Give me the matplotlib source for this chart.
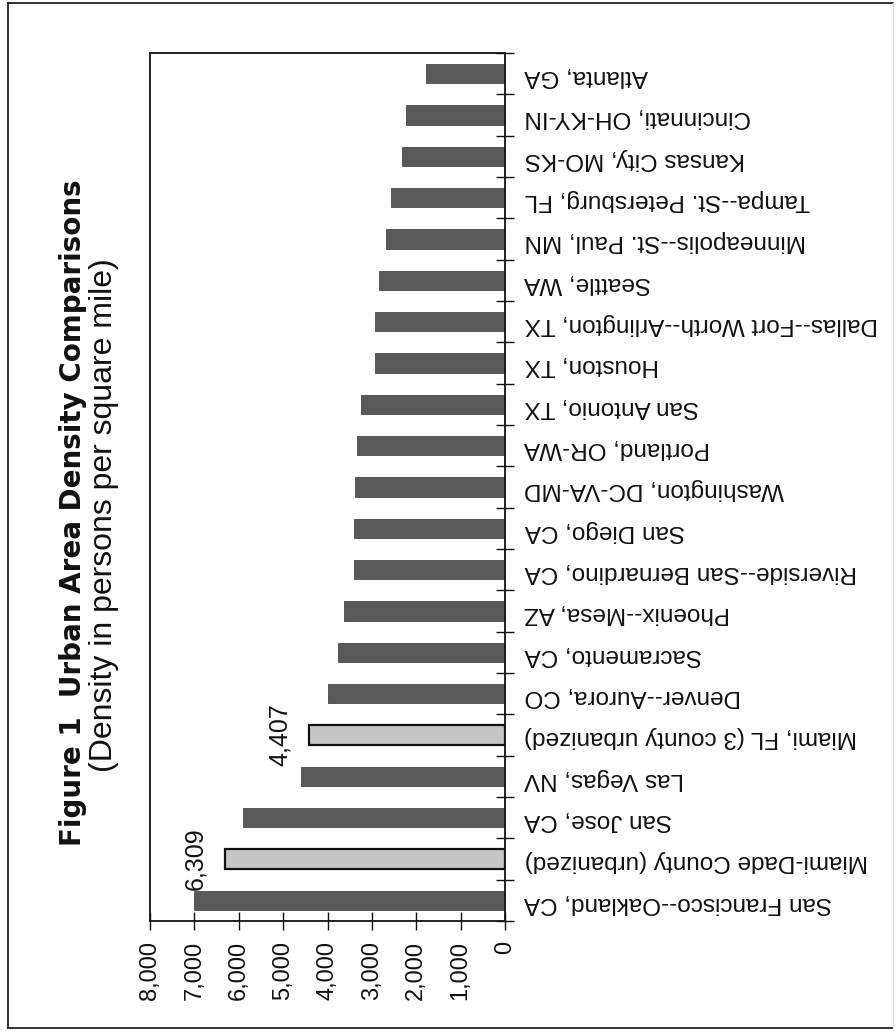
import matplotlib
matplotlib.use("Agg")
import matplotlib.pyplot as plt
from matplotlib import font_manager
from matplotlib.ticker import FuncFormatter, FixedLocator
import numpy as np

# Urban areas, ordered from the densest (drawn at the bottom) upward
areas = [
    "San Francisco--Oakland, CA",
    "Miami-Dade County (urbanized)",
    "San Jose, CA",
    "Las Vegas, NV",
    "Miami, FL (3 county urbanized)",
    "Denver--Aurora, CO",
    "Sacramento, CA",
    "Phoenix--Mesa, AZ",
    "Riverside--San Bernardino, CA",
    "San Diego, CA",
    "Washington, DC-VA-MD",
    "Portland, OR-WA",
    "San Antonio, TX",
    "Houston, TX",
    "Dallas--Fort Worth--Arlington, TX",
    "Seattle, WA",
    "Minneapolis--St. Paul, MN",
    "Tampa--St. Petersburg, FL",
    "Kansas City, MO-KS",
    "Cincinnati, OH-KY-IN",
    "Atlanta, GA",
]
density = [7004, 6309, 5914, 4597, 4407, 3979, 3768, 3638, 3408, 3403,
           3390, 3325, 3235, 2940, 2935, 2840, 2675, 2560, 2325, 2225, 1780]
# Bars that carry a value label and a lighter fill
highlighted = ["Miami-Dade County (urbanized)", "Miami, FL (3 county urbanized)"]
value_ticks = [0, 1000, 2000, 3000, 4000, 5000, 6000, 7000, 8000]

title = "Figure 1  Urban Area Density Comparisons"
subtitle = "(Density in persons per square mile)"

available = {f.name for f in font_manager.fontManager.ttflist}
label_font = "Liberation Sans" if "Liberation Sans" in available else "DejaVu Sans"
plt.rcParams["font.family"] = [label_font, "DejaVu Sans"]

W, H = 896, 1031
fig = plt.figure(figsize=(W / 100, H / 100), dpi=100)
fig.patch.set_facecolor("white")

# plot area in pixel coordinates (left, top, right, bottom)
L, T, R, B = 150, 53, 505, 921
ax = fig.add_axes([L / W, 1 - B / H, (R - L) / W, (B - T) / H])

y = np.arange(len(areas))
colors = ["#c6c6c6" if a in highlighted else "#595959" for a in areas]
edges = ["#111111" if a in highlighted else "#4a4a4a" for a in areas]
lws = [1.6 if a in highlighted else 0.6 for a in areas]
ax.barh(y, density, height=0.46, color=colors, edgecolor=edges, linewidth=lws, zorder=2)

ax.set_xlim(8000, 0)
ax.set_ylim(-0.5, len(areas) - 0.5)

# value axis: ticks crossing the bottom line, labels turned sideways
ax.xaxis.set_major_locator(FixedLocator(value_ticks))
ax.xaxis.set_major_formatter(FuncFormatter(lambda v, p: f"{int(v):,}"))
ax.tick_params(axis="x", direction="inout", length=13, width=1.0, pad=8,
               labelsize=17, labelrotation=90, colors="#111111")

# category axis on the right, labels upside down
ax.yaxis.tick_right()
ax.set_yticks(y)
ax.set_yticklabels(areas)
ax.set_yticks(np.arange(-0.5, len(areas), 1.0), minor=True)
ax.tick_params(axis="y", which="major", length=0, pad=14, labelsize=17.5,
               labelrotation=180, colors="#111111")
ax.tick_params(axis="y", which="minor", direction="inout", length=13, width=1.0,
               color="#111111")

for s in ax.spines.values():
    s.set_linewidth(1.3)
    s.set_color("#111111")

# value labels beside the highlighted bars
for a, v, yy in zip(areas, density, y):
    if a in highlighted:
        ax.annotate(f"{v:,}", xy=(v, yy), xytext=(-13, 0), textcoords="offset points",
                    rotation=90, ha="right", va="center", fontsize=18, color="#111111")

# titles running up the left side
fig.text(73 / W, 1 - 513 / H, title, rotation=90, ha="center", va="center",
         fontsize=20, fontweight="bold", family="DejaVu Sans", color="#111111")
fig.text(104 / W, 1 - 515 / H, subtitle, rotation=90, ha="center", va="center",
         fontsize=23, color="#111111")

# page frame
frame_kw = dict(transform=fig.transFigure, color="#222222", linewidth=1.3)
fig.add_artist(plt.Line2D([8 / W, 8 / W], [1 - 3 / H, 1 - 1028 / H], **frame_kw))
fig.add_artist(plt.Line2D([8 / W, 893 / W], [1 - 3 / H, 1 - 3 / H], **frame_kw))
fig.add_artist(plt.Line2D([8 / W, 893 / W], [1 - 1028 / H, 1 - 1028 / H], **frame_kw))
fig.add_artist(plt.Line2D([893 / W, 893 / W], [1 - 3 / H, 1 - 1028 / H],
                          transform=fig.transFigure, color="#d8d8d8", linewidth=1.0))

fig.savefig("out.png", dpi=100, facecolor="white")
